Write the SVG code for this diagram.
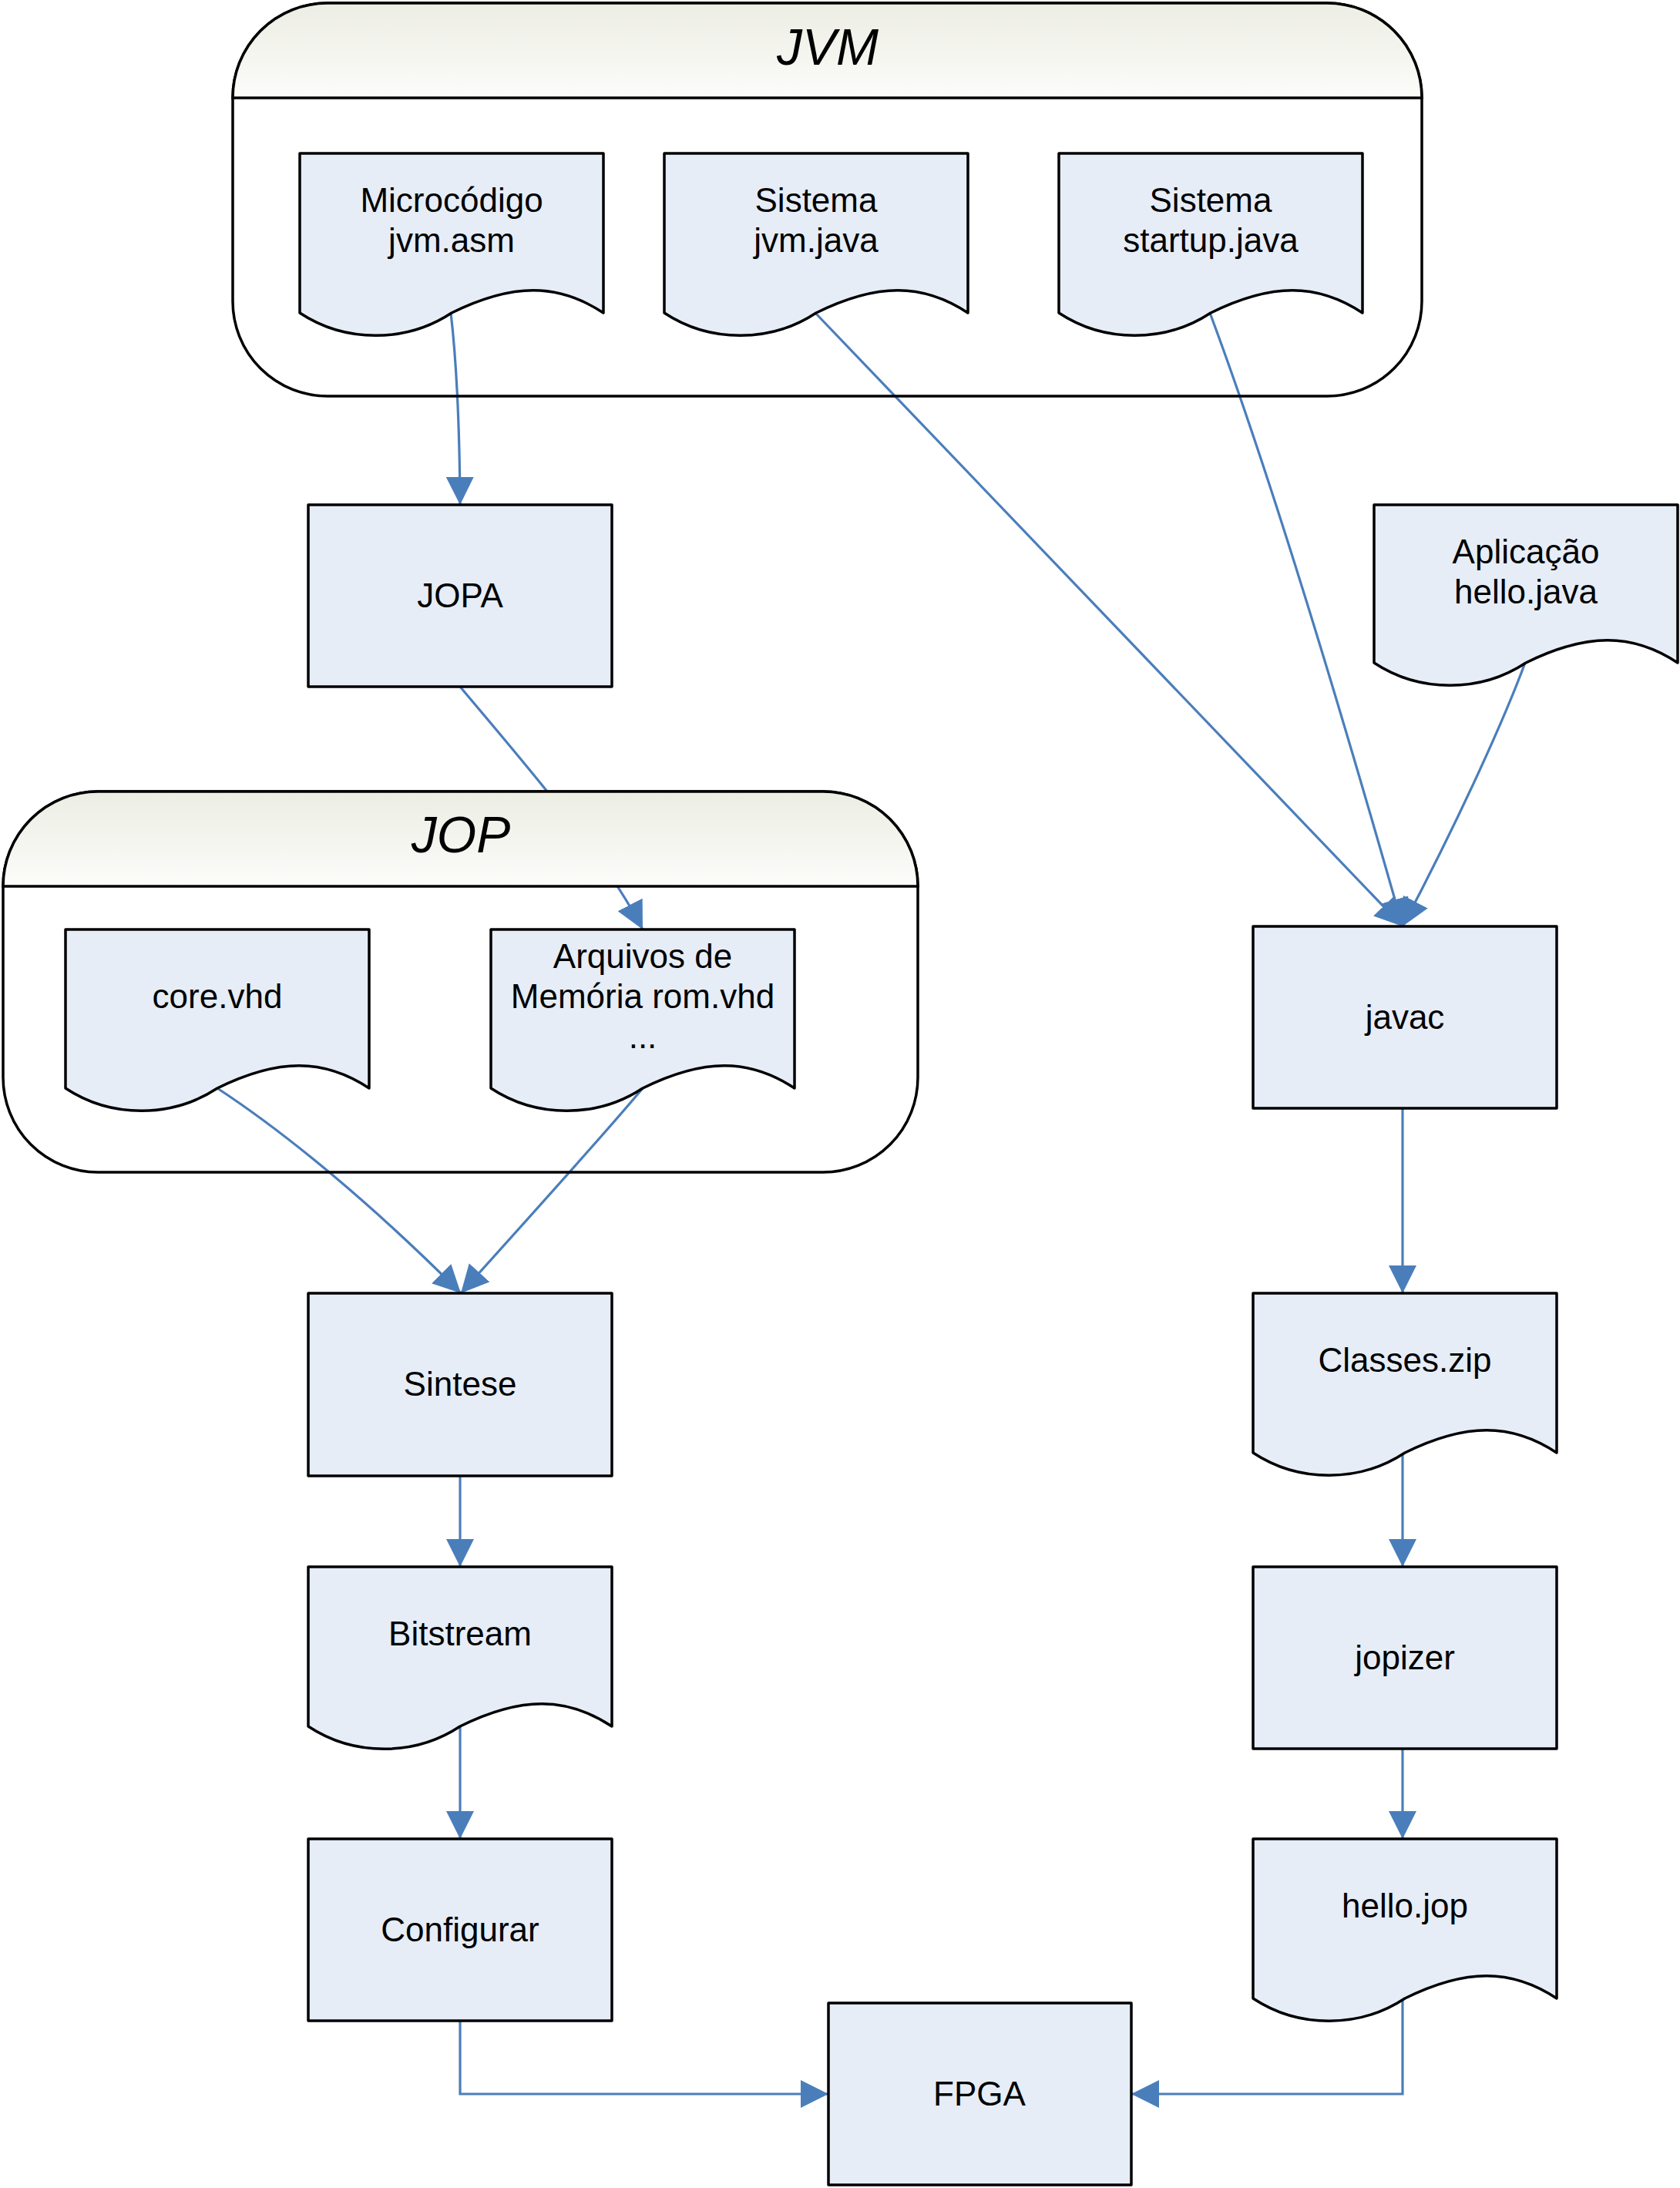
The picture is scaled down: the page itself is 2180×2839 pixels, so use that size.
<svg xmlns="http://www.w3.org/2000/svg" width="2180" height="2839" viewBox="0 0 2180 2839">
<style>
.node{fill:#E6EDF7;stroke:#000;stroke-width:3.5;stroke-linejoin:round}
.cbody{fill:none;stroke:#000;stroke-width:3.5}
.chead{fill:url(#hg);stroke:#000;stroke-width:3.5}
.lbl{font-family:"Liberation Sans",Arial,sans-serif;font-size:44px;fill:#000;text-anchor:middle}
.ttl{font-family:"Liberation Sans",Arial,sans-serif;font-size:66px;font-style:italic;fill:#000;text-anchor:middle}
.edge{fill:none;stroke:#4A7EBB;stroke-width:3.2;marker-end:url(#ah)}
</style>
<defs>
<linearGradient id="hg" x1="0" y1="0" x2="0" y2="1">
<stop offset="0" stop-color="#ECEDE3"/>
<stop offset="1" stop-color="#FCFCFA"/>
</linearGradient>
<marker id="ah" markerUnits="userSpaceOnUse" markerWidth="36" markerHeight="36" viewBox="0 0 36 36" refX="36" refY="18" orient="auto">
<path d="M0,0 L36,18 L0,36 z" fill="#4A7EBB"/>
</marker>
</defs>
<rect width="2180" height="2839" fill="#fff"/>

<g id="connectors">
<path class="edge" d="M585,406 Q596,500 597,655"/>
<path class="edge" d="M597,891 C680,990 785,1110 834,1206"/>
<path class="edge" d="M282,1412 C340,1450 450,1530 598,1678"/>
<path class="edge" d="M834,1412 C790,1465 700,1565 598,1678"/>
<path class="edge" d="M597,1915 V2033"/>
<path class="edge" d="M597,2240 V2386"/>
<path class="edge" d="M597,2622 V2717 H1075"/>
<path class="edge" d="M1058,406 L1820,1202"/>
<path class="edge" d="M1570,406 C1620,540 1700,780 1820,1202"/>
<path class="edge" d="M1979,860 C1955,925 1900,1050 1820,1202"/>
<path class="edge" d="M1820,1438 V1678"/>
<path class="edge" d="M1820,1885 V2033"/>
<path class="edge" d="M1820,2269 V2386"/>
<path class="edge" d="M1820,2593 V2717 H1468"/>
</g>

<g id="jvm">
<rect class="cbody" x="302" y="4" width="1543" height="510" rx="123" ry="123"/>
<path class="chead" d="M302,127 A123,123 0 0 1 425,4 H1722 A123,123 0 0 1 1845,127 Z"/>
<text class="ttl" x="1074" y="84">JVM</text>
</g>

<g id="jop">
<rect class="cbody" x="4" y="1027" width="1187" height="494" rx="123" ry="123"/>
<path class="chead" d="M4,1150 A123,123 0 0 1 127,1027 H1068 A123,123 0 0 1 1191,1150 Z"/>
<text class="ttl" x="598" y="1106">JOP</text>
</g>

<g id="microcodigo">
<path class="node" d="M389,199 H783 V406 C724,367 665,367 586,406 C527,445 448,445 389,406 Z"/>
<text class="lbl" x="586" y="275">Microcódigo</text>
<text class="lbl" x="586" y="327">jvm.asm</text>
</g>

<g id="jvmjava">
<path class="node" d="M862,199 H1256 V406 C1197,367 1138,367 1059,406 C1000,445 921,445 862,406 Z"/>
<text class="lbl" x="1059" y="275">Sistema</text>
<text class="lbl" x="1059" y="327">jvm.java</text>
</g>

<g id="startup">
<path class="node" d="M1374,199 H1768 V406 C1709,367 1650,367 1571,406 C1512,445 1433,445 1374,406 Z"/>
<text class="lbl" x="1571" y="275">Sistema</text>
<text class="lbl" x="1571" y="327">startup.java</text>
</g>

<g id="jopa">
<rect class="node" x="400" y="655" width="394" height="236"/>
<text class="lbl" x="597" y="788">JOPA</text>
</g>

<g id="aplicacao">
<path class="node" d="M1783,655 H2177 V860 C2118,821 2059,821 1980,860 C1921,899 1842,899 1783,860 Z"/>
<text class="lbl" x="1980" y="731">Aplicação</text>
<text class="lbl" x="1980" y="783">hello.java</text>
</g>

<g id="corevhd">
<path class="node" d="M85,1206 H479 V1412 C420,1373 361,1373 282,1412 C223,1451 144,1451 85,1412 Z"/>
<text class="lbl" x="282" y="1308">core.vhd</text>
</g>

<g id="arquivos">
<path class="node" d="M637,1206 H1031 V1412 C972,1373 913,1373 834,1412 C775,1451 696,1451 637,1412 Z"/>
<text class="lbl" x="834" y="1256">Arquivos de</text>
<text class="lbl" x="834" y="1308">Memória rom.vhd</text>
<text class="lbl" x="834" y="1360">...</text>
</g>

<g id="javac">
<rect class="node" x="1626" y="1202" width="394" height="236"/>
<text class="lbl" x="1823" y="1335">javac</text>
</g>

<g id="sintese">
<rect class="node" x="400" y="1678" width="394" height="237"/>
<text class="lbl" x="597" y="1811">Sintese</text>
</g>

<g id="classeszip">
<path class="node" d="M1626,1678 H2020 V1885 C1961,1846 1902,1846 1823,1885 C1764,1924 1685,1924 1626,1885 Z"/>
<text class="lbl" x="1823" y="1780">Classes.zip</text>
</g>

<g id="bitstream">
<path class="node" d="M400,2033 H794 V2240 C735,2201 676,2201 597,2240 C538,2279 459,2279 400,2240 Z"/>
<text class="lbl" x="597" y="2135">Bitstream</text>
</g>

<g id="jopizer">
<rect class="node" x="1626" y="2033" width="394" height="236"/>
<text class="lbl" x="1823" y="2166">jopizer</text>
</g>

<g id="configurar">
<rect class="node" x="400" y="2386" width="394" height="236"/>
<text class="lbl" x="597" y="2519">Configurar</text>
</g>

<g id="hellojop">
<path class="node" d="M1626,2386 H2020 V2593 C1961,2554 1902,2554 1823,2593 C1764,2632 1685,2632 1626,2593 Z"/>
<text class="lbl" x="1823" y="2488">hello.jop</text>
</g>

<g id="fpga">
<rect class="node" x="1075" y="2599" width="393" height="236"/>
<text class="lbl" x="1271" y="2732">FPGA</text>
</g>
</svg>
